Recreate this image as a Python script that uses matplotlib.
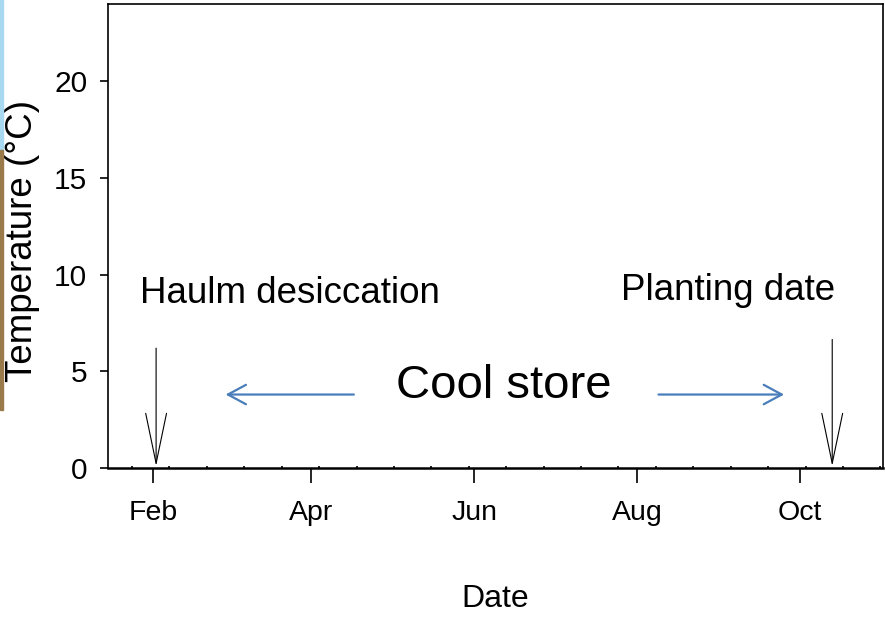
import matplotlib
matplotlib.use("Agg")
import matplotlib.pyplot as plt
import matplotlib.dates as mdates
from matplotlib.patches import Rectangle
from datetime import datetime, timedelta

# axis range and ticks
x_start = datetime(2015, 1, 15)
x_end = datetime(2015, 11, 1)
y_max = 24
y_ticks = [0, 5, 10, 15, 20]
month_ticks = [datetime(2015, m, 1) for m in (2, 4, 6, 8, 10)]
month_labels = ["Feb", "Apr", "Jun", "Aug", "Oct"]

# event markers (date, arrow top)
haulm_date = datetime(2015, 2, 2)
planting_date = datetime(2015, 10, 13)
haulm_top = 6.2
planting_top = 6.65

# cool store period arrows (tail, tip)
store_left = (datetime(2015, 4, 17), datetime(2015, 2, 28))
store_right = (datetime(2015, 8, 9), datetime(2015, 9, 25))
store_y = 3.8

sans = ["Liberation Sans", "DejaVu Sans"]

fig = plt.figure(figsize=(8.85, 6.19), dpi=100)
ax = fig.add_axes([108 / 885, 1 - 468 / 619, 775 / 885, 464 / 619])

ax.set_xlim(x_start, x_end)
ax.set_ylim(0, y_max)

ax.set_xticks(month_ticks)
ax.set_xticklabels(month_labels, family=sans, fontsize=20.5)
minor = []
d = datetime(2015, 1, 24)
while d < x_end:
    minor.append(mdates.date2num(d))
    d += timedelta(days=14)
ax.set_xticks(minor, minor=True)
ax.tick_params(axis="x", which="major", direction="out", length=11, width=1.2, pad=12)
ax.tick_params(axis="x", which="minor", direction="in", length=1.5, width=1.2)

ax.set_yticks(y_ticks)
ax.set_yticklabels([str(v) for v in y_ticks], family=sans, fontsize=21.5)
ax.tick_params(axis="y", direction="out", length=6, width=1.2, pad=9)

for s in ax.spines.values():
    s.set_linewidth(1.2)
ax.spines["bottom"].set_linewidth(1.8)

ax.set_xlabel("Date", family=sans, fontsize=23, labelpad=42)
ax.set_ylabel("Temperature (°C)", family=sans, fontsize=26.5)
ax.yaxis.set_label_coords(-0.088, 0.49)

# event arrows
for date, top in ((haulm_date, haulm_top), (planting_date, planting_top)):
    ax.annotate("", xy=(date, 0.1), xytext=(date, top),
                arrowprops=dict(arrowstyle="->,head_length=3.6,head_width=0.75",
                                mutation_scale=10, color="black", lw=0.8,
                                shrinkA=0, shrinkB=0))

ax.text(datetime(2015, 1, 27), 9.05, "Haulm desiccation", family=sans,
        fontsize=26.5, ha="left", va="center")
ax.text(datetime(2015, 7, 26), 9.2, "Planting date", family=sans,
        fontsize=26.5, ha="left", va="center")

# cool store arrows
blue = "#4A7EBB"
for tail, tip in (store_left, store_right):
    ax.annotate("", xy=(tip, store_y), xytext=(tail, store_y),
                arrowprops=dict(arrowstyle="->,head_length=1.3,head_width=0.7",
                                mutation_scale=10, color=blue, lw=1.6,
                                shrinkA=0, shrinkB=0))
ax.text(datetime(2015, 6, 12), 4.26, "Cool store", family=sans,
        fontsize=34, ha="center", va="center")

# thin coloured strip at the left edge of the source image
fig.patches.append(Rectangle((0, 1 - 150 / 619), 2.5 / 885, 150 / 619,
                             transform=fig.transFigure, color="#a9d9f0", zorder=0))
fig.patches.append(Rectangle((0, 1 - 410 / 619), 2.5 / 885, 260 / 619,
                             transform=fig.transFigure, color="#9a7a4a", zorder=0))

fig.savefig("out.png", dpi=100, facecolor="white")
